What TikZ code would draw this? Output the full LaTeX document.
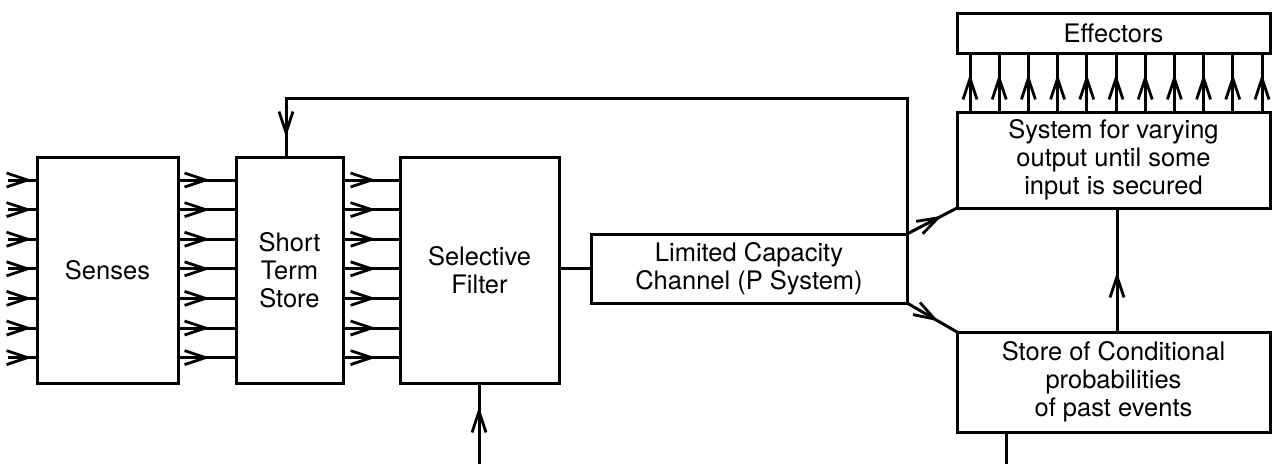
\documentclass[tikz,border=0pt]{standalone}
\usepackage{fontspec}
\setmainfont{TeX Gyre Heros}
\usetikzlibrary{arrows.meta,decorations.markings}
\tikzset{
  box/.style={draw, rectangle, line width=3pt, inner sep=0pt, outer sep=0pt, anchor=north west, align=center,
    font=\fontsize{25.5}{28}\selectfont},
  conn/.style={line width=3pt},
  midarrow/.style={conn, postaction={decorate}, decoration={markings,
    mark=at position #1 with {\arrow[line width=2.8pt]{Straight Barb[length=21pt,width=14pt]}}}}
}
\begin{document}
\begin{tikzpicture}[x=1pt,y=-1pt]
\useasboundingbox (0,0) rectangle (1272,464);
% boxes
\node[box, minimum width=141pt, minimum height=226pt] (senses) at (37,157) {Senses};
\node[box, minimum width=107pt, minimum height=226pt] (sts) at (236,157) {Short\\Term\\Store};
\node[box, minimum width=159pt, minimum height=226pt] (filter) at (400,157) {Selective\\Filter};
\node[box, minimum width=316pt, minimum height=69pt] (lcc) at (591,234) {Limited Capacity\\Channel (P System)};
\node[box, minimum width=313pt, minimum height=40pt] (eff) at (957,13) {Effectors};
\node[box, minimum width=313pt, minimum height=96pt] (sys) at (957,112) {System for varying\\output until some\\input is secured};
\node[box, minimum width=313pt, minimum height=100pt] (store) at (957,332) {Store of Conditional\\probabilities\\of past events};
% rows of arrows
\foreach \i in {0,...,6} {
  \pgfmathsetmacro\yy{180+29.6*\i}
  \coordinate (r\i) at (8,\yy);
  \draw[midarrow=24pt] (r\i) -- (senses.west |- r\i);
  \draw[midarrow=32pt] (senses.east |- r\i) -- (sts.west |- r\i);
  \draw[midarrow=33pt] (sts.east |- r\i) -- (filter.west |- r\i);
}
% filter to channel
\draw[conn] (filter.east |- lcc.west) -- (lcc.west);
% effector arrows
\foreach \i in {0,...,10} {
  \pgfmathsetmacro\xx{970+29.2*\i}
  \coordinate (c\i) at (\xx,0);
  \draw[midarrow=38pt] (sys.north -| c\i) -- (eff.south -| c\i);
}
% channel outputs
\draw[midarrow=0.7] (lcc.north east) -- (sys.south west);
\draw[midarrow=0.63] (lcc.south east) -- (store.north west);
% store to system
\coordinate (sv) at (1117,0);
\draw[midarrow=60pt] (store.north -| sv) -- (sys.south -| sv);
% feedback loop to short term store
\coordinate (fbx) at (286,98);
\draw[midarrow=-20pt] (lcc.north east) -- (lcc.north east |- fbx) -- (fbx) -- (sts.north -| fbx);
% input to selective filter
\coordinate (fin) at (479,464);
\draw[midarrow=57pt] (fin) -- (filter.south -| fin);
% output of store
\coordinate (sout) at (1006,464);
\draw[conn] (store.south -| sout) -- (sout);
\end{tikzpicture}
\end{document}
